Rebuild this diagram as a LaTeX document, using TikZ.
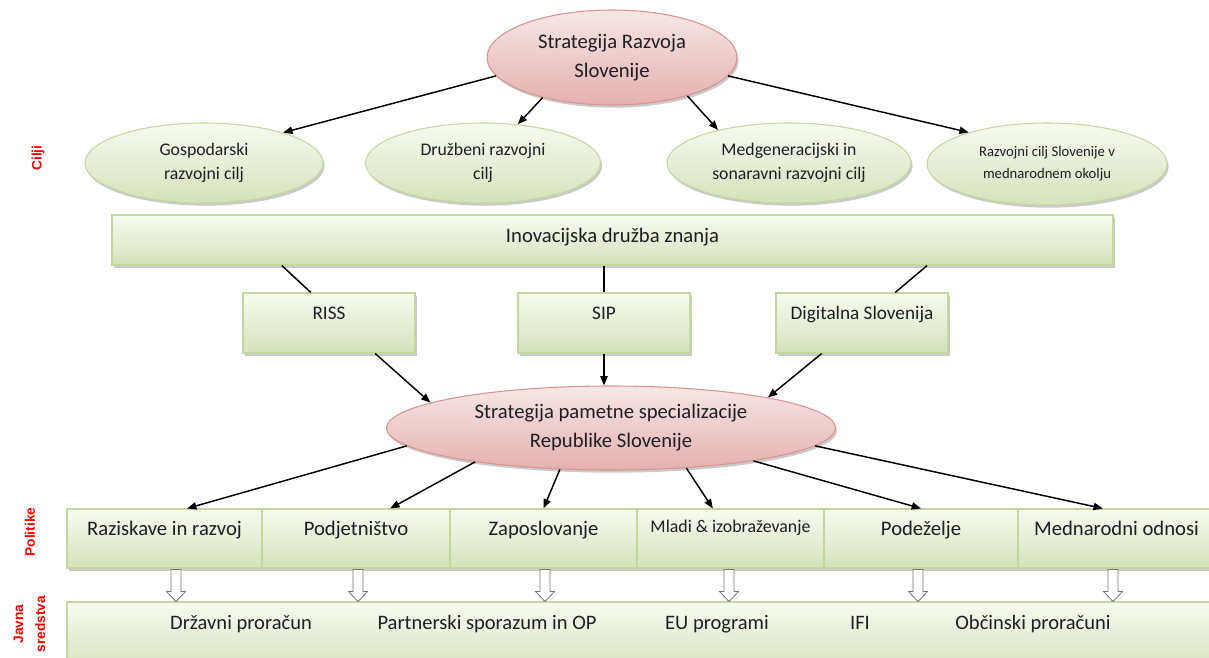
\documentclass[tikz,border=0pt]{standalone}
\usepackage{fontspec}
\setmainfont{Carlito}
\newfontfamily\labfont{Liberation Sans}
\usetikzlibrary{calc,shadows,arrows.meta,shapes.geometric}
\definecolor{gTop}{RGB}{247,250,241}
\definecolor{gBot}{RGB}{213,226,186}
\definecolor{gDraw}{RGB}{196,215,158}
\definecolor{pTop}{RGB}{247,230,230}
\definecolor{pBot}{RGB}{228,176,176}
\definecolor{pDraw}{RGB}{216,148,146}
\definecolor{txt}{RGB}{30,30,36}
\definecolor{labred}{RGB}{255,0,0}
\tikzset{
  shad/.style={drop shadow={shadow xshift=1.2pt, shadow yshift=-2pt, opacity=.35, fill=black!60}},
  greenell/.style={ellipse, draw=gDraw, line width=0.8pt, top color=gTop, bottom color=gBot,
    inner sep=0pt, align=center, text=txt, shad},
  pinkell/.style={ellipse, draw=pDraw, line width=0.8pt, top color=pTop, bottom color=pBot,
    inner sep=0pt, align=center, text=txt, shad},
  greenbox/.style={rectangle, draw=gDraw, line width=0.8pt, top color=gTop, bottom color=gBot,
    inner xsep=0pt, inner ysep=0pt, text=txt, shad},
  arr/.style={line width=1.1pt, -{Triangle[length=7pt,width=5.5pt]}},
  ln/.style={line width=1.1pt},
  hollow/.style={draw=black!55, fill=white, line width=0.6pt},
  sidelab/.style={rotate=90, text=labred, align=center,
    font=\labfont\bfseries\fontsize{10.3}{16.5}\selectfont},
  jt/.style={anchor=base, text=txt, font=\fontsize{15.4}{18}\selectfont},
  harrow/.pic={\draw[hollow] (-5,0) -- (-5,22) -- (-9.5,22) -- (0,32) -- (9.5,22) -- (5,22) -- (5,0) -- cycle;}
}
\begin{document}
\begin{tikzpicture}[x=0.75pt,y=-0.75pt]
\useasboundingbox (0,0) rectangle (1209,657);

% top ellipse
\node[pinkell, minimum width=187.5pt, minimum height=71.25pt,
      font=\fontsize{15.5}{21.75}\selectfont] (srs) at (612,57.5) {Strategija Razvoja\\Slovenije};

% goals
\node[greenell, minimum width=178.5pt, minimum height=60pt,
      font=\fontsize{13.3}{18}\selectfont] (g1) at (204,163) {Gospodarski\\razvojni cilj};
\node[greenell, minimum width=176.25pt, minimum height=60pt,
      font=\fontsize{13.3}{18}\selectfont] (g2) at (483,163) {Družbeni razvojni\\cilj};
\node[greenell, minimum width=183pt, minimum height=60pt,
      font=\fontsize{13.3}{18}\selectfont] (g3) at (789,163) {Medgeneracijski in\\sonaravni razvojni cilj};
\node[greenell, minimum width=180pt, minimum height=61.5pt,
      font=\fontsize{11}{16.5}\selectfont] (g4) at (1047,164) {Razvojni cilj Slovenije v\\mednarodnem okolju};

\draw[arr] (srs.189) -- (g1.21);
\draw[arr] (srs.210) -- (g2.48);
\draw[arr] (srs.333) -- (g3.155);
\draw[arr] (srs.351) -- (g4.158);

% innovation society bar
\node[greenbox, minimum width=750.75pt, text height=20.75pt, text depth=16.75pt,
      font=\fontsize{15.5}{18}\selectfont] (ino) at (612.5,240) {Inovacijska družba znanja};

% three strategy boxes
\node[greenbox, minimum width=129pt, text height=19.6pt, text depth=25.4pt,
      font=\fontsize{14.4}{17}\selectfont] (riss) at (329,323) {RISS};
\node[greenbox, minimum width=129pt, text height=19.6pt, text depth=25.4pt,
      font=\fontsize{14.4}{17}\selectfont] (sip) at (604,323) {SIP};
\node[greenbox, minimum width=129pt, text height=19.6pt, text depth=25.4pt,
      font=\fontsize{14.4}{17}\selectfont] (dig) at (862,323) {Digitalna Slovenija};

\draw[ln] ($(ino.south west)!0.17!(ino.south east)$) -- ($(riss.north west)!0.395!(riss.north east)$);
\draw[ln] (sip.north |- ino.south) -- (sip.north);
\draw[ln] ($(ino.south west)!0.814!(ino.south east)$) -- ($(dig.north west)!0.692!(dig.north east)$);

% smart specialisation ellipse
\node[pinkell, minimum width=336.75pt, minimum height=63pt,
      font=\fontsize{15.5}{21.75}\selectfont] (spe) at (611,428) {Strategija pametne specializacije\\Republike Slovenije};

\draw[arr] ($(riss.south west)!0.767!(riss.south east)$) -- (spe.172);
\draw[arr] (sip.south) -- (sip.south |- spe.north);
\draw[arr] ($(dig.south west)!0.267!(dig.south east)$) -- (spe.11);

% policies
\tikzset{pol/.style={greenbox, text height=20pt, text depth=24.25pt, font=\fontsize{15.5}{18}\selectfont}}
\node[pol, minimum width=146.25pt] (p1) at (164.5,538.5) {Raziskave in razvoj};
\node[pol, minimum width=141pt]    (p2) at (356,538.5) {Podjetništvo};
\node[pol, minimum width=140.25pt] (p3) at (543.5,538.5) {Zaposlovanje};
\node[pol, minimum width=140.25pt, text height=17.8pt, text depth=26.45pt,
      font=\fontsize{13.4}{16}\selectfont] (p4) at (730.5,538.5) {Mladi \& izobraževanje};
\node[pol, minimum width=145.5pt]  (p5) at (921,538.5) {Podeželje};
\node[pol, minimum width=147.75pt] (p6) at (1116.5,538.5) {Mednarodni odnosi};

\draw[arr] (spe.185) -- ($(p1.north west)!0.615!(p1.north east)$);
\draw[arr] (spe.194) -- ($(p2.north west)!0.681!(p2.north east)$);
\draw[arr] (spe.219) -- (p3.north);
\draw[arr] (spe.332) -- ($(p4.north west)!0.406!(p4.north east)$);
\draw[arr] (spe.347) -- (p5.north);
\draw[arr] (spe.355) -- ($(p6.north west)!0.431!(p6.north east)$);

% public funds
\node[greenbox, minimum width=861pt, minimum height=52.5pt] (js) at (641,637) {};
\node[jt] (t1) at (241,629) {Državni proračun};
\node[jt] (t2) at (487,629) {Partnerski sporazum in OP};
\node[jt] (t3) at (717,629) {EU programi};
\node[jt] (t4) at (860,629) {IFI};
\node[jt] (t5) at (1033,629) {Občinski proračuni};

% hollow arrows
\pic at ($(p1.south)+(11.5,1)$) {harrow};
\pic at ($(p2.south)+(2,1)$) {harrow};
\pic at ($(p3.south)+(1.5,1)$) {harrow};
\pic at ($(p4.south)+(-1.5,1)$) {harrow};
\pic at ($(p5.south)+(-3,1)$) {harrow};
\pic at ($(p6.south)+(-3.5,1)$) {harrow};

% side labels
\node[sidelab] (lc) at (38,158) {Cilji};
\node[sidelab] (lp) at (30,532) {Politike};
\node[sidelab] (lj) at (29.5,624) {Javna\\sredstva};
\end{tikzpicture}
\end{document}
